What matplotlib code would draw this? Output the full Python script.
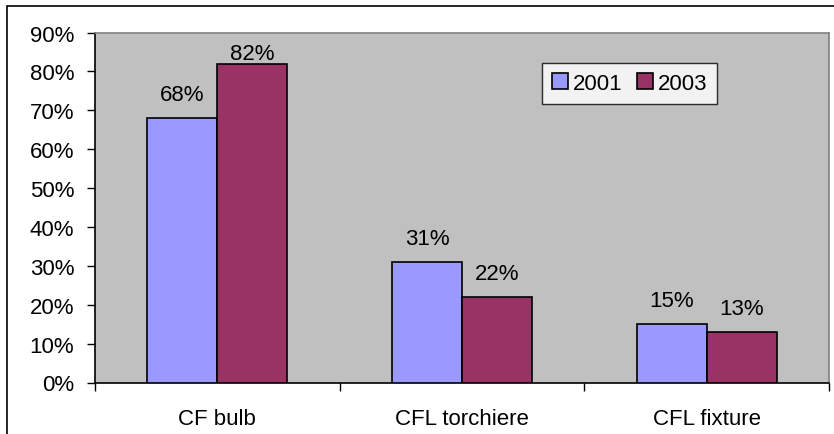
import matplotlib.pyplot as plt
from matplotlib.patches import Rectangle
from matplotlib.ticker import FixedLocator, NullFormatter

categories = ["CF bulb", "CFL torchiere", "CFL fixture"]
series_names = ["2001", "2003"]
values_2001 = [68, 31, 15]
values_2003 = [82, 22, 13]
y_ticks = [0, 10, 20, 30, 40, 50, 60, 70, 80, 90]

plt.rcParams["font.family"] = ["Liberation Sans", "DejaVu Sans"]
FS = 16

W, H = 834, 435
fig = plt.figure(figsize=(W / 100, H / 100), dpi=100)

# outer chart frame (only its left and top edges fall inside the canvas)
fig.patches.append(Rectangle((7 / W, -0.1), 1.2, 1.1 - 7 / H, transform=fig.transFigure,
                             fill=False, edgecolor="black", linewidth=1.2))

left, right, top, bottom = 95, 829, 33.5, 383.5
ax = fig.add_axes([left / W, 1 - bottom / H, (right - left) / W, (bottom - top) / H])
ax.set_facecolor("#C0C0C0")
ymax = 90
axes_h_pt = (bottom - top) * 72 / 100

bw = 1 / 3.5
x = range(len(categories))
colors = ["#9999FF", "#993366"]
for i, (vals, c, name) in enumerate(zip([values_2001, values_2003], colors, series_names)):
    xs = [k + 0.5 + (i - 0.5) * bw for k in x]
    ax.bar(xs, vals, width=bw, color=c, edgecolor="black", linewidth=1.2, label=name,
           zorder=3)
    for xi, v in zip(xs, vals):
        # keep the value label inside the plot area
        room = (ymax - v) / ymax * axes_h_pt - 19
        off = min(13, room)
        ax.annotate(f"{v}%", (xi, v), xytext=(0, off), textcoords="offset points",
                    ha="center", va="baseline", fontsize=FS)

ax.set_xlim(0, 3)
ax.set_ylim(0, ymax)
ax.set_yticks(y_ticks)
ax.set_yticklabels([f"{t}%" for t in y_ticks], fontsize=FS)
ax.xaxis.set_major_locator(FixedLocator([0, 1, 2, 3]))
ax.xaxis.set_major_formatter(NullFormatter())
ax.xaxis.set_minor_locator(FixedLocator([0.5, 1.5, 2.5]))
ax.set_xticklabels(categories, minor=True, fontsize=FS)
ax.tick_params(axis="x", which="minor", length=0, pad=18.5)
ax.tick_params(axis="x", which="major", direction="out", length=6, width=1)
ax.tick_params(axis="y", direction="out", length=6, width=1, pad=9)

for s in ["top", "right"]:
    ax.spines[s].set_color("#808080")
    ax.spines[s].set_linewidth(1.2)
for s in ["left", "bottom"]:
    ax.spines[s].set_color("black")
    ax.spines[s].set_linewidth(1.2)

leg = ax.legend(loc="upper left", bbox_to_anchor=((542 - left) / (right - left), 1 - (64 - top) / (bottom - top)),
                ncol=2, fontsize=FS, frameon=True, fancybox=False, handlelength=0.72,
                handleheight=0.72, handletextpad=0.22, columnspacing=0.63, borderpad=0.45,
                borderaxespad=0)
leg.get_frame().set_edgecolor("black")
leg.get_frame().set_linewidth(1.0)

fig.savefig("out.png", dpi=100)
